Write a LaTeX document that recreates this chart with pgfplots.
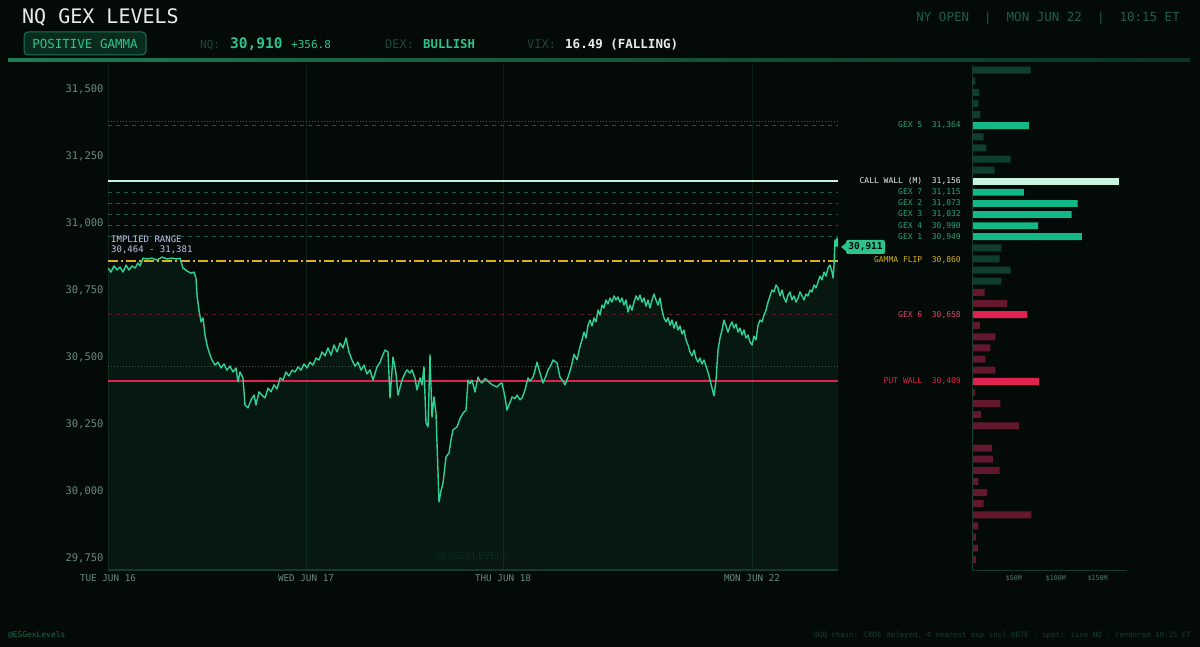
\documentclass[border=0pt]{standalone}
\usepackage{pgfplots}
\pgfplotsset{compat=1.18}
\usepackage{pgfplotstable}
\usepackage{fontspec}
\setmainfont{DejaVu Sans Mono}
\newcommand{\fs}[1]{\fontsize{#1}{#1}\selectfont}
\definecolor{bg}{HTML}{030A07}
\definecolor{titlec}{HTML}{E6EEEA}
\definecolor{acc}{HTML}{2BC48C}
\definecolor{dimlab}{HTML}{1D4A39}
\definecolor{hdrr}{HTML}{1F5E46}
\definecolor{tick}{HTML}{6A8A7C}
\definecolor{pline}{HTML}{30D196}
\definecolor{gridc}{HTML}{0E1F18}
\definecolor{axline}{HTML}{163A2C}
\definecolor{gexdash}{HTML}{1B5A44}
\definecolor{reddash}{HTML}{5A1A2A}
\definecolor{dotc}{HTML}{44544D}
\definecolor{mint}{HTML}{C9F3DF}
\definecolor{putc}{HTML}{E0234E}
\definecolor{flipc}{HTML}{D8B020}
\definecolor{darkg}{HTML}{0F3D2E}
\definecolor{brightg}{HTML}{12B886}
\definecolor{darkr}{HTML}{63182E}
\definecolor{brightr}{HTML}{E0234E}
\definecolor{lav}{HTML}{C6C3EE}
\definecolor{gexlab}{HTML}{2AA077}
\definecolor{barlab}{HTML}{4F7D6A}
\definecolor{foot}{HTML}{1F6A4C}
\definecolor{footr}{HTML}{173D2E}
\definecolor{wm}{HTML}{0F2A1F}
\definecolor{sepl}{HTML}{1F7A55}
\definecolor{sepr}{HTML}{0C3324}

\pgfplotstableread{
x y
108 30832
111 30817
114 30840
117 30825
120 30836
123 30817
126 30843
129 30825
132 30840
135 30832
138 30851
140 30840
143 30869
147 30866
152 30869
157 30862
162 30873
167 30866
172 30869
177 30866
180 30869
183 30832
187 30821
191 30813
194 30817
196 30795
197 30731
199 30675
201 30631
203 30646
205 30582
207 30545
209 30519
212 30489
215 30470
218 30481
221 30459
224 30474
227 30451
230 30466
233 30444
236 30459
238 30407
240 30444
243 30422
245 30321
248 30310
251 30340
254 30358
256 30321
259 30370
262 30358
265 30347
268 30384
271 30370
274 30396
277 30381
280 30422
283 30414
286 30444
289 30429
292 30451
295 30444
298 30463
301 30451
304 30474
307 30459
310 30481
313 30470
316 30496
319 30489
322 30519
325 30504
328 30534
331 30507
334 30545
337 30519
340 30552
343 30534
346 30571
349 30519
352 30489
355 30466
358 30481
361 30451
364 30470
367 30437
370 30452
373 30414
377 30463
380 30480
382 30500
385 30526
388 30519
390 30347
393 30500
396 30440
398 30358
402 30414
405 30440
407 30452
410 30440
412 30452
415 30420
417 30377
420 30422
422 30396
424 30463
426 30254
428 30239
430 30508
432 30276
434 30351
436 30291
439 29959
441 30000
443 30030
446 30127
449 30142
451 30190
453 30228
457 30239
460 30270
463 30291
466 30302
468 30414
470 30400
472 30414
475 30369
478 30425
480 30410
482 30403
485 30420
487 30414
490 30403
493 30395
497 30388
500 30400
502 30403
505 30350
507 30302
510 30330
512 30351
515 30345
517 30358
520 30340
522 30347
525 30377
528 30422
530 30410
533 30425
535 30450
537 30481
540 30440
543 30403
546 30430
548 30452
551 30470
553 30489
557 30478
560 30425
563 30410
565 30396
568 30425
571 30460
574 30510
577 30490
580 30540
582 30564
584 30593
586 30571
588 30619
590 30638
592 30616
594 30646
596 30631
598 30675
600 30657
602 30694
604 30683
606 30713
608 30698
610 30720
612 30705
614 30728
616 30713
618 30724
620 30705
622 30720
624 30694
626 30713
628 30668
630 30694
632 30675
634 30705
636 30728
638 30713
640 30731
642 30705
644 30720
646 30690
648 30713
650 30683
652 30713
654 30735
656 30713
658 30694
660 30720
662 30675
664 30646
666 30631
668 30646
670 30619
672 30638
674 30608
676 30631
678 30601
680 30616
682 30586
684 30601
686 30564
688 30545
690 30519
692 30504
694 30526
696 30496
698 30481
700 30496
702 30474
704 30489
706 30466
708 30444
710 30414
712 30384
714 30355
716 30414
718 30526
720 30571
722 30601
724 30638
726 30616
728 30593
730 30616
732 30631
734 30608
736 30623
738 30593
740 30608
742 30582
744 30601
746 30571
748 30582
750 30556
752 30545
754 30578
756 30564
758 30619
760 30638
762 30631
764 30657
766 30675
768 30705
770 30728
772 30750
774 30743
776 30769
778 30758
780 30728
782 30750
784 30720
786 30705
788 30731
790 30743
792 30713
794 30728
796 30705
798 30720
800 30743
802 30728
804 30713
806 30735
808 30728
810 30750
812 30743
814 30769
816 30758
818 30780
820 30802
822 30788
824 30817
826 30802
828 30832
830 30843
832 30817
833 30795
834 30843
835 30937
836 30914
837 30944
838 30911
}\price

\pgfplotstableread{
p v
31571 70
31530 4
31488 8.5
31447 7.5
31405 10
31322 14
31281 17
31239 46
31198 27
30907 35
30866 33
30824 46
30783 35
}\gdark
\pgfplotstableread{
p v
31364 68
31115 62
31073 126
31032 119
30990 79
30949 131
}\gbright
\pgfplotstableread{
p v
31156 175
}\gmint
\pgfplotstableread{
p v
30741 15
30700 42
30617 9.5
30575 28
30534 22
30492 16
30451 28
30368 3.5
30326 34
30285 11
30243 56
30202 1.5
30160 24
30119 25
30077 33
30036 7.5
29994 18
29953 14
29911 71
29870 7.5
29828 5
29787 7
29745 4.5
}\rdark
\pgfplotstableread{
p v
30658 66
30409 80
}\rbright

\begin{document}
\begin{tikzpicture}
\begin{scope}[x=1pt,y=-1pt]
\fill[bg] (0,0) rectangle (1200,647);
% header
\node[anchor=base west, inner sep=0, text=titlec, font=\fs{20}] at (22,24) {NQ GEX LEVELS};
\node[anchor=base east, inner sep=0, text=hdrr, font=\fs{12.5}] at (1180,22) {NY OPEN~~|~~MON JUN 22~~|~~10:15 ET};
\draw[draw=acc!60!black, fill=acc!18!bg, line width=1pt, rounded corners=4pt] (24,32) rectangle (146,55);
\node[anchor=base, inner sep=0, text=acc, font=\fs{12.5}] at (85,48.5) {POSITIVE GAMMA};
\node[anchor=base west, inner sep=0, text=dimlab, font=\fs{11}] at (200,48.5) {NQ:};
\node[anchor=base west, inner sep=0, text=acc, font=\fs{14.5}\bfseries] at (230,48.5) {30,910};
\node[anchor=base west, inner sep=0, text=acc, font=\fs{11}] at (291,48.5) {+356.8};
\node[anchor=base west, inner sep=0, text=dimlab, font=\fs{12}] at (385,48.5) {DEX:};
\node[anchor=base west, inner sep=0, text=acc, font=\fs{12.3}\bfseries] at (423,48.5) {BULLISH};
\node[anchor=base west, inner sep=0, text=dimlab, font=\fs{12}] at (527,48.5) {VIX:};
\node[anchor=base west, inner sep=0, text=titlec, font=\fs{12.5}\bfseries] at (565,48.5) {16.49 (FALLING)};
\shade[left color=sepl, right color=sepr] (8,58.5) rectangle (1190,61.5);
% footer
\node[anchor=base west, inner sep=0, text=foot, font=\fs{7.9}] at (8,637) {@ESGexLevels};
\node[anchor=base east, inner sep=0, text=footr, font=\fs{7.4}] at (1191,637) {QQQ chain: CBOE delayed, 4 nearest exp incl 0DTE · spot: live NQ · rendered 10:15 ET};
\end{scope}

\begin{axis}[
  at={(108pt,-570pt)}, anchor=south west,
  width=730pt, height=505pt, scale only axis,
  xmin=108, xmax=838, ymin=29705, ymax=31590,
  axis line style={draw=none},
  major tick length=0pt,
  xtick={108,306,503,752},
  xticklabels={TUE JUN 16,WED JUN 17,THU JUN 18,MON JUN 22},
  ytick={29750,30000,30250,30500,30750,31000,31250,31500},
  scaled y ticks=false,
  xmajorgrids=true, ymajorgrids=false,
  major grid style={draw=gridc, line width=0.8pt},
  yticklabel style={font=\fs{10.5}, text=tick, xshift=-1pt, /pgf/number format/.cd, 1000 sep={,}, assume math mode=true},
  xticklabel style={font=\fs{9.3}, text=tick, yshift=-1pt},
]
\addplot[draw=none, fill=pline, fill opacity=0.07] table[x=x,y=y]{\price} \closedcycle;
% level lines
\addplot[dotc, line width=0.9pt, dash pattern=on 1pt off 2pt] coordinates {(108,31381) (838,31381)};
\addplot[gexdash, line width=0.9pt, dash pattern=on 4pt off 4pt] coordinates {(108,31364) (838,31364)};
\addplot[mint, line width=2pt] coordinates {(108,31156) (838,31156)};
\addplot[gexdash, line width=0.9pt, dash pattern=on 4pt off 4pt] coordinates {(108,31115) (838,31115)};
\addplot[gexdash, line width=0.9pt, dash pattern=on 4pt off 4pt] coordinates {(108,31073) (838,31073)};
\addplot[gexdash, line width=0.9pt, dash pattern=on 4pt off 4pt] coordinates {(108,31032) (838,31032)};
\addplot[gexdash, line width=0.9pt, dash pattern=on 4pt off 4pt] coordinates {(108,30990) (838,30990)};
\addplot[gexdash, line width=0.9pt, dash pattern=on 4pt off 4pt] coordinates {(108,30949) (838,30949)};
\addplot[flipc, line width=2pt, dash pattern=on 10pt off 3pt on 2pt off 3pt] coordinates {(108,30860) (838,30860)};
\addplot[reddash, line width=0.9pt, dash pattern=on 4pt off 4pt] coordinates {(108,30658) (838,30658)};
\addplot[dotc, line width=0.9pt, dash pattern=on 1pt off 2pt] coordinates {(108,30464) (838,30464)};
\addplot[putc, line width=2pt] coordinates {(108,30409) (838,30409)};
\addplot[pline, line width=1.4pt, line join=round] table[x=x,y=y]{\price};
\addplot[axline, line width=1.5pt] coordinates {(108,29705) (838,29705)};
\end{axis}

\begin{axis}[
  at={(972pt,-570pt)}, anchor=south west,
  width=155pt, height=505pt, scale only axis,
  xmin=0, xmax=185, ymin=29705, ymax=31590,
  axis line style={draw=none},
  major tick length=0pt,
  ytick=\empty,
  xtick={50,100,150}, xticklabels={\$50M,\$100M,\$150M},
  xticklabel style={font=\fs{6.6}, text=barlab, yshift=-2pt},
]
\addplot[xbar, bar width=26, bar shift=0pt, fill=darkg, draw=none] table[x=v,y=p]{\gdark};
\addplot[xbar, bar width=26, bar shift=0pt, fill=brightg, draw=none] table[x=v,y=p]{\gbright};
\addplot[xbar, bar width=26, bar shift=0pt, fill=mint, draw=none] table[x=v,y=p]{\gmint};
\addplot[xbar, bar width=26, bar shift=0pt, fill=darkr, draw=none] table[x=v,y=p]{\rdark};
\addplot[xbar, bar width=26, bar shift=0pt, fill=brightr, draw=none] table[x=v,y=p]{\rbright};
\addplot[sharp plot, axline, line width=1pt] coordinates {(0,29705) (0,31590)};
\addplot[sharp plot, axline, line width=1pt] coordinates {(0,29705) (185,29705)};
\end{axis}

\begin{scope}[x=1pt,y=-1pt]
\node[anchor=center, text=wm, font=\fs{10}] at (472,557) {@ESGEXLEVELS};
\node[anchor=base west, inner sep=0, text=lav, font=\fs{9}] at (111,243) {IMPLIED RANGE};
\node[anchor=base west, inner sep=0, text=lav, font=\fs{9}] at (111,253) {30,464 - 31,381};
\fill[acc] (841,247) -- (846,243) -- (846,251) -- cycle;
\node[fill=acc, text=bg, rounded corners=2pt, font=\fs{9.5}\bfseries, inner sep=0pt, minimum width=39pt, minimum height=14pt] at (865.5,247) {30,911};
\node[anchor=east, text=gexlab, font=\fs{8}, inner sep=0] at (961,125.4) {GEX 5~~31,364};
\node[anchor=east, text=titlec, font=\fs{8}, inner sep=0] at (961,181.2) {CALL WALL (M)~~31,156};
\node[anchor=east, text=gexlab, font=\fs{8}, inner sep=0] at (961,192.2) {GEX 7~~31,115};
\node[anchor=east, text=gexlab, font=\fs{8}, inner sep=0] at (961,203.4) {GEX 2~~31,073};
\node[anchor=east, text=gexlab, font=\fs{8}, inner sep=0] at (961,214.4) {GEX 3~~31,032};
\node[anchor=east, text=gexlab, font=\fs{8}, inner sep=0] at (961,225.7) {GEX 4~~30,990};
\node[anchor=east, text=gexlab, font=\fs{8}, inner sep=0] at (961,236.7) {GEX 1~~30,949};
\node[anchor=east, text=flipc, font=\fs{8}, inner sep=0] at (961,260.5) {GAMMA FLIP~~30,860};
\node[anchor=east, text=brightr!85!white, font=\fs{8}, inner sep=0] at (961,314.7) {GEX 6~~30,658};
\node[anchor=east, text=brightr, font=\fs{8}, inner sep=0] at (961,381.4) {PUT WALL~~30,409};
\end{scope}
\pgfresetboundingbox
\path[use as bounding box] (0,0) rectangle (1200pt,-647pt);
\end{tikzpicture}
\end{document}
